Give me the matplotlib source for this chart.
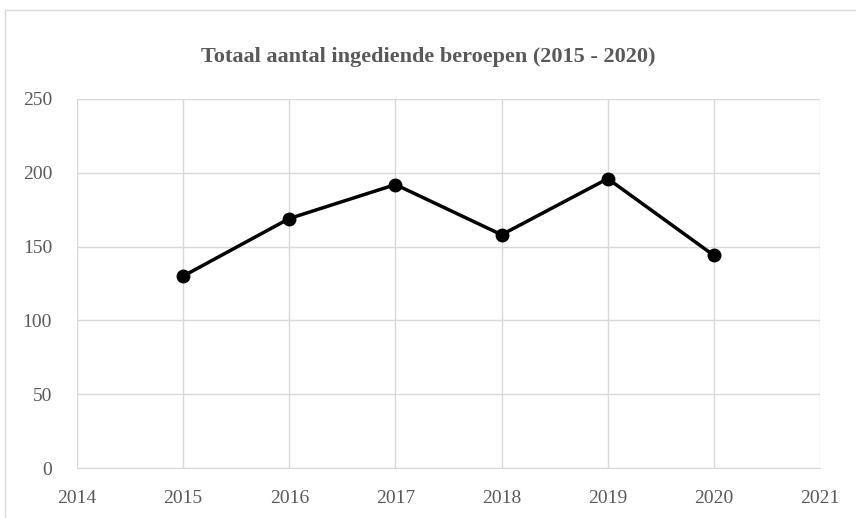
import matplotlib.pyplot as plt
from matplotlib.patches import Rectangle

years = [2015, 2016, 2017, 2018, 2019, 2020]
beroepen = [130, 169, 192, 158, 196, 144]
x_ticks = list(range(2014, 2022))
y_ticks = [0, 50, 100, 150, 200, 250]

plt.rcParams['font.family'] = ['Liberation Serif', 'DejaVu Serif']
txt = '#595959'
grid = '#d9d9d9'

fig = plt.figure(figsize=(8.56, 5.18), dpi=100)
ax = fig.add_axes([0.09, 0.0965, 0.868, 0.7125])

# chart border (cropped on the right/bottom in the original)
fig.patches.append(Rectangle((5 / 856, -0.1), 1.2, 1 - 10 / 518 + 0.1,
                             transform=fig.transFigure, fill=False,
                             edgecolor=grid, lw=1))

ax.plot(years, beroepen, color='black', lw=2.5, marker='o', ms=9, zorder=3)

ax.set_xlim(2014, 2021)
ax.set_ylim(0, 250)
ax.set_xticks(x_ticks)
ax.set_yticks(y_ticks)
ax.grid(True, color=grid, lw=1)
ax.set_axisbelow(True)
for s in ['top', 'right', 'left']:
    ax.spines[s].set_visible(False)
ax.spines['bottom'].set_color(grid)
ax.tick_params(length=0, labelsize=14, colors=txt)
ax.tick_params(axis='x', pad=16)
ax.tick_params(axis='y', pad=18)

fig.text(0.5, 0.89, 'Totaal aantal ingediende beroepen (2015 - 2020)',
         ha='center', va='center', fontsize=16, fontweight='bold', color=txt)

fig.savefig('out.png', dpi=100)
